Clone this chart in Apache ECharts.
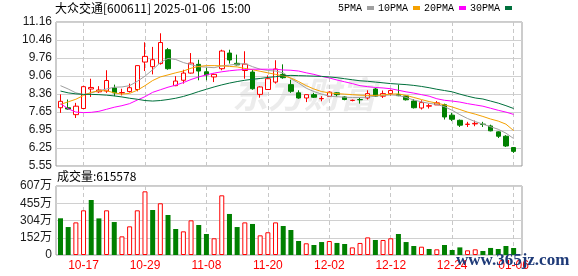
<!DOCTYPE html>
<html>
<head>
<meta charset="utf-8">
<script src="https://cdn.jsdelivr.net/npm/echarts@6/dist/echarts.min.js"></script>
<style>
html,body{margin:0;padding:0;background:#fff;}
#c{width:578px;height:276px;}
</style>
</head>
<body>
<div id="c"></div>
<script>
const dates = ['10-14','10-15','10-16','10-17','10-18','10-21','10-22','10-23','10-24','10-25',
  '10-28','10-29','10-30','10-31','11-01','11-04','11-05','11-06','11-07','11-08',
  '11-11','11-12','11-13','11-14','11-15','11-18','11-19','11-20','11-21','11-22',
  '11-25','11-26','11-27','11-28','11-29','12-02','12-03','12-04','12-05','12-06',
  '12-09','12-10','12-11','12-12','12-13','12-16','12-17','12-18','12-19','12-20',
  '12-23','12-24','12-25','12-26','12-27','12-30','12-31','01-02','01-03','01-06'];
const opens = [7.82,7.82,7.55,7.79,8.55,8.44,8.47,8.59,8.40,8.45, 8.53,9.60,9.42,9.54,10.08,8.68,8.89,9.17,9.51,9.22,
  9.02,9.34,9.95,9.55,9.27,9.21,8.34,8.53,8.82,9.12, 8.72,8.40,8.20,8.33,8.17,8.26,8.40,8.24,8.10,8.14,
  8.20,8.55,8.27,8.37,8.33,8.28,8.08,7.81,7.88,7.93, 7.94,7.53,7.33,7.17,7.19,7.18,7.11,6.88,6.71,6.27];
const closes = [8.07,7.77,7.88,8.64,8.61,8.51,8.88,8.40,8.41,8.60, 9.46,9.82,9.69,10.36,9.34,8.86,9.17,9.56,9.25,9.10,
  9.12,10.03,9.68,9.49,9.52,8.56,8.63,8.95,9.33,8.99, 8.46,8.20,8.33,8.23,8.18,8.43,8.33,8.14,8.11,8.13,
  8.37,8.27,8.37,8.49,8.29,8.13,7.82,8.02,7.90,8.01, 7.46,7.37,7.14,7.18,7.21,7.17,6.92,6.71,6.33,6.12];
const lows = [7.62,7.75,7.42,7.77,8.24,8.40,8.40,8.27,8.30,8.41, 8.46,9.25,9.12,9.50,9.30,8.66,8.76,9.15,8.89,8.89,
  8.82,9.28,9.54,9.47,8.95,8.52,8.21,8.52,8.76,8.95, 8.40,8.17,8.04,8.20,8.07,8.24,8.24,8.11,8.07,7.98,
  8.14,8.24,8.20,8.29,8.27,8.10,7.79,7.75,7.79,7.93, 7.36,7.30,7.07,7.07,7.10,7.07,6.90,6.64,6.29,6.06];
const highs = [8.34,8.14,8.01,8.67,8.95,8.66,9.28,8.72,8.56,8.76, 9.47,10.37,10.19,10.72,10.15,9.05,9.30,9.95,9.69,9.38,
  9.15,10.08,10.08,9.89,10.02,9.30,8.66,9.08,9.67,9.51, 8.91,8.50,8.33,8.40,8.27,8.46,8.42,8.27,8.14,8.20,
  8.50,8.59,8.49,8.53,8.72,8.30,8.15,8.11,7.98,8.08, 7.98,7.62,7.36,7.27,7.32,7.27,7.16,6.90,6.75,6.29];
const ma5 = [8.68,8.55,8.40,8.33,8.40,8.48,8.55,8.62,8.63,8.68, 8.85,9.05,9.30,9.58,9.74,9.70,9.58,9.50,9.42,9.40,
  9.38,9.45,9.48,9.52,9.54,9.42,9.32,9.27,9.25,9.18, 8.95,8.78,8.58,8.45,8.35,8.27,8.25,8.23,8.22,8.22,
  8.23,8.27,8.30,8.32,8.30,8.22,8.12,8.05,7.99,7.95, 7.86,7.72,7.55,7.40,7.28,7.18,7.08,6.98,6.83,6.62];
const ma10 = [7.95,8.05,8.15,8.30,8.42,8.48,8.48,8.40,8.35,8.38, 8.50,8.68,8.88,9.02,9.10,9.18,9.25,9.36,9.43,9.46,
  9.46,9.45,9.43,9.41,9.35,9.30,9.24,9.18,9.12,9.06, 8.98,8.84,8.68,8.55,8.45,8.40,8.37,8.35,8.33,8.31,
  8.30,8.30,8.32,8.35,8.36,8.30,8.22,8.14,8.06,8.00, 7.93,7.85,7.75,7.65,7.57,7.48,7.38,7.30,7.18,6.93];
const ma20 = [7.98,7.78,7.65,7.63,7.64,7.68,7.76,7.84,7.90,7.98, 8.12,8.25,8.42,8.52,8.62,8.70,8.80,8.92,9.02,9.10,
  9.17,9.22,9.26,9.29,9.31,9.32,9.32,9.32,9.32,9.29, 9.28,9.25,9.18,9.12,9.04,8.98,8.90,8.83,8.76,8.68,
  8.64,8.61,8.59,8.56,8.50,8.44,8.39,8.33,8.27,8.17, 8.11,8.08,8.04,7.98,7.93,7.88,7.80,7.72,7.65,7.56];
const ma30 = [8.47,8.40,8.36,8.34,8.34,8.33,8.31,8.28,8.24,8.19, 8.15,8.10,8.08,8.10,8.14,8.19,8.26,8.35,8.45,8.54,
  8.63,8.71,8.78,8.84,8.89,8.93,8.96,9.00,9.03,9.06, 9.08,9.07,9.06,9.05,9.04,9.02,8.99,8.95,8.91,8.87,
  8.85,8.82,8.79,8.76,8.74,8.72,8.69,8.65,8.60,8.54, 8.49,8.44,8.35,8.27,8.20,8.16,8.08,8.00,7.90,7.79];
const volumes = [323,246,287,393,484,322,393,290,164,252, 393,560,396,455,352,229,208,305,264,185,
  147,525,361,246,287,273,173,200,287,255, 220,123,103,88,114,123,106,97,67,106,
  155,132,132,147,185,114,79,73,53,50, 88,44,67,41,50,35,62,53,79,61.5578];
const volumeUp = [0,0,1,1,0,0,1,0,1,1, 1,1,0,1,0,0,1,1,0,0, 1,1,0,0,1,0,1,1,1,0,
  0,0,1,0,0,1,0,0,1,1, 1,0,1,1,0,0,0,1,0,1, 0,0,0,1,1,0,0,0,0,0];
const priceTicks = ['5.55','6.25','6.95','7.65','8.36','9.06','9.76','10.46','11.16'];
const volumeTicks = ['0','152万','304万','455万','607万'];
const maNames = ['5PMA','10PMA','20PMA','30PMA'];
const maColors = ['#a0a0a0','#f5a100','#ff00ff','#00703c'];
const titleText = '大众交通[600611] 2025-01-06  15:00';

const RED = '#ff0000', GREEN = '#008000';
const labelEvery = (idx) => (idx - 3) % 8 === 0;
const priceMin = 5.55, priceMax = 11.16, priceStep = (priceMax - priceMin) / 8;
const volMax = 607, volStep = volMax / 4;

const chart = echarts.init(document.getElementById('c'), null, {renderer: 'canvas', width: 578, height: 276});

const dataLeft = 56.66, slot = 7.68, dataWidth = slot * dates.length;
const mainTop = 22, mainH = 144, volTop = 186, volH = 69;

const candleData = dates.map((d, i) => [opens[i], closes[i], lows[i], highs[i]]);
const volData = volumes.map((v, i) => ({
  value: v,
  itemStyle: volumeUp[i] ? {color: '#ffffff', borderColor: RED, borderWidth: 1} : {color: GREEN, borderColor: GREEN, borderWidth: 0}
}));
const maSeries = [ma5, ma10, ma20, ma30].map((arr, k) => ({
  name: maNames[k], type: 'line', xAxisIndex: 1, yAxisIndex: 1, data: arr,
  symbol: 'none', smooth: false, z: 3,
  lineStyle: {width: 1, color: maColors[k]}, itemStyle: {color: maColors[k]}
}));

const dashed = {show: true, interval: labelEvery, alignWithLabel: true, lineStyle: {color: '#c8c8c8', type: [4, 3], width: 1}};

chart.setOption({
  animation: false,
  backgroundColor: '#ffffff',
  title: [{
    text: titleText, left: 55, top: 2, padding: 0,
    textStyle: {fontSize: 12, fontWeight: 'normal', color: '#000', fontFamily: 'Noto Sans CJK SC'}
  }, {
    text: '成交量:' + Math.round(volumes[volumes.length - 1] * 10000), left: 57, top: 170, padding: 0,
    textStyle: {fontSize: 12, fontWeight: 'normal', color: '#000', fontFamily: 'Noto Sans CJK SC'}
  }],
  legend: {
    data: maNames, right: 66, top: 3, padding: 0, align: 'right', icon: 'rect',
    itemWidth: 7, itemHeight: 4, itemGap: 4,
    textStyle: {fontSize: 10, color: '#000', fontFamily: 'Liberation Mono'}
  },
  graphic: [{
    type: 'text', left: 232, top: 76, z: -1, silent: true,
    style: {text: '东方财富', fill: '#ececec', fontSize: 36, fontWeight: 'bold', fontStyle: 'italic', fontFamily: 'Noto Sans CJK SC'}
  }, {
    type: 'text', left: 456, top: 252, z: 100, silent: true,
    style: {text: 'www.365jz.com', fill: '#1e3a78', fontSize: 17, fontWeight: 'bold', fontFamily: 'Liberation Serif'}
  }],
  grid: [
    {left: 56, right: 56, top: mainTop, height: mainH, show: true, borderColor: '#999', borderWidth: 1, backgroundColor: 'transparent'},
    {left: dataLeft, width: dataWidth, top: mainTop, height: mainH},
    {left: 56, right: 56, top: volTop, height: volH, show: true, borderColor: '#999', borderWidth: 1, backgroundColor: 'transparent'},
    {left: dataLeft, width: dataWidth, top: volTop, height: volH}
  ],
  xAxis: [
    {gridIndex: 0, type: 'value', show: false},
    {gridIndex: 1, type: 'category', data: dates, boundaryGap: true,
      axisLine: {show: false}, axisTick: {show: false}, axisLabel: {show: false}, splitLine: dashed},
    {gridIndex: 2, type: 'value', show: false},
    {gridIndex: 3, type: 'category', data: dates, boundaryGap: true,
      axisLine: {show: false}, axisTick: {show: false},
      axisLabel: {show: true, interval: labelEvery, color: RED, fontSize: 12, margin: 5, fontFamily: 'Liberation Sans'},
      splitLine: dashed}
  ],
  yAxis: [
    {gridIndex: 0, type: 'value', min: priceMin, max: priceMax, interval: priceStep,
      axisLine: {show: false}, axisTick: {show: false},
      axisLabel: {margin: 4, fontSize: 12, color: '#1a1a1a', fontFamily: 'Liberation Sans',
        formatter: (v) => priceTicks[Math.round((v - priceMin) / priceStep)]},
      splitLine: {show: true, lineStyle: {color: '#d0d0d0', width: 1}}},
    {gridIndex: 1, type: 'value', min: priceMin, max: priceMax, show: false},
    {gridIndex: 2, type: 'value', min: 0, max: volMax, interval: volStep,
      axisLine: {show: false}, axisTick: {show: false},
      axisLabel: {margin: 4, fontSize: 12, color: '#1a1a1a', fontFamily: 'Liberation Sans, Noto Sans CJK SC',
        formatter: (v) => volumeTicks[Math.round(v / volStep)]},
      splitLine: {show: true, lineStyle: {color: '#d0d0d0', width: 1}}},
    {gridIndex: 3, type: 'value', min: 0, max: volMax, show: false}
  ],
  series: [
    {type: 'candlestick', name: 'K', xAxisIndex: 1, yAxisIndex: 1, data: candleData, barWidth: 5, z: 2,
      itemStyle: {color: '#ffffff', color0: GREEN, borderColor: RED, borderColor0: GREEN, borderWidth: 1}},
    ...maSeries,
    {type: 'bar', name: 'VOL', xAxisIndex: 3, yAxisIndex: 3, data: volData, barWidth: 5}
  ]
});
</script>
</body>
</html>
